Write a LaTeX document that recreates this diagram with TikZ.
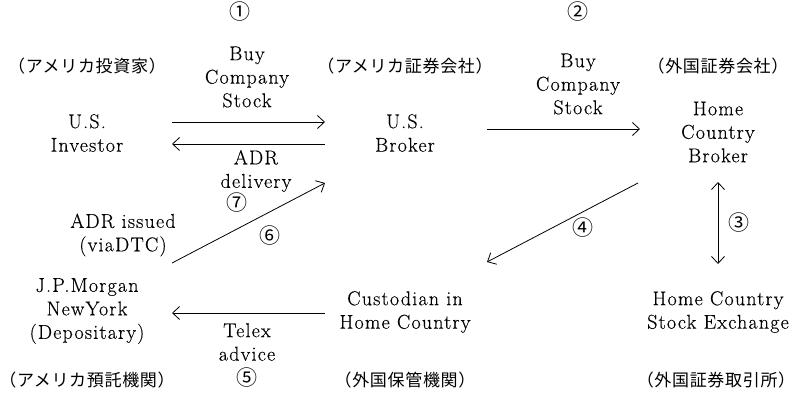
\documentclass[tikz,border=0pt]{standalone}
\usepackage{fontspec}
\setmainfont{Latin Modern Roman}[LetterSpace=6,FakeBold=0.3]
\newfontfamily\jp{Noto Sans CJK JP}[LetterSpace=4]
\usetikzlibrary{arrows.meta}
\begin{document}
\begin{tikzpicture}[x=1pt,y=-1pt,
  lbl/.style={align=center,inner sep=0pt,font=\fontsize{20}{23.5}\selectfont},
  jlbl/.style={inner sep=0pt,font=\jp\fontsize{17}{20}\selectfont},
  num/.style={inner sep=0pt,font=\jp\fontsize{21}{24}\selectfont},
  flow/.style={line width=0.8pt,-{Straight Barb[length=7pt,width=13pt,line width=0.8pt]}},
  both/.style={line width=0.8pt,{Straight Barb[length=7pt,width=13pt,line width=0.8pt]}-{Straight Barb[length=7pt,width=13pt,line width=0.8pt]}}]
\useasboundingbox (0,0) rectangle (798,395);

% step numbers
\node[num] (n1) at (240,12) {①};
\node[num] (n2) at (578,12) {②};
\node[num] (n3) at (739,223) {③};
\node[num] (n4) at (583,228) {④};
\node[num] (n5) at (247,378) {⑤};
\node[num] (n6) at (270,236) {⑥};
\node[num] (n7) at (237,203) {⑦};

% Japanese captions
\node[jlbl] (jinv) at (87,66) {（アメリカ投資家）};
\node[jlbl] (jbrk) at (405,66) {（アメリカ証券会社）};
\node[jlbl] (jhbr) at (718,66) {（外国証券会社）};
\node[jlbl] (jdep) at (87,380) {（アメリカ預託機関）};
\node[jlbl] (jcus) at (405,380) {（外国保管機関）};
\node[jlbl] (jexc) at (716,380) {（外国証券取引所）};

% parties
\node[lbl] (inv) at (87,133) {U.S.\\Investor};
\node[lbl] (brk) at (405,133) {U.S.\\Broker};
\node[lbl] (hbr) at (718,132) {Home\\Country\\Broker};
\node[lbl] (dep) at (87,311) {J.P.Morgan\\NewYork\\(Depositary)};
\node[lbl] (cus) at (405,312) {Custodian in\\Home Country};
\node[lbl] (exc) at (718,312) {Home Country\\Stock Exchange};

% arrow labels
\node[lbl] (buy1) at (247,77) {Buy\\Company\\Stock};
\node[lbl] (buy2) at (578,84) {Buy\\Company\\Stock};
\node[lbl] (adrd) at (256,171) {ADR\\delivery};
\node[lbl] (adri) at (123,235) {ADR issued\\(viaDTC)};
\node[lbl] (telx) at (247,342) {Telex\\advice};

% connector end points
\coordinate (inv-r1) at (172,122);
\coordinate (brk-l1) at (325,122);
\coordinate (inv-r2) at (172,144);
\coordinate (brk-l2) at (325,144);
\coordinate (brk-r) at (487,129);
\coordinate (hbr-l) at (640,129);
\coordinate (dep-ne) at (172,263);
\coordinate (brk-sw) at (325,183);
\coordinate (hbr-sw) at (638,183);
\coordinate (cus-ne) at (487,262);
\coordinate (hbr-s) at (718,182);
\coordinate (exc-n) at (718,264);
\coordinate (cus-w) at (325,313);
\coordinate (dep-e) at (172,313);

% flows
\draw[flow] (inv-r1) -- (brk-l1);
\draw[flow] (brk-l2) -- (inv-r2);
\draw[flow] (brk-r) -- (hbr-l);
\draw[flow] (dep-ne) -- (brk-sw);
\draw[flow] (hbr-sw) -- (cus-ne);
\draw[both] (hbr-s) -- (exc-n);
\draw[flow] (cus-w) -- (dep-e);
\end{tikzpicture}
\end{document}
